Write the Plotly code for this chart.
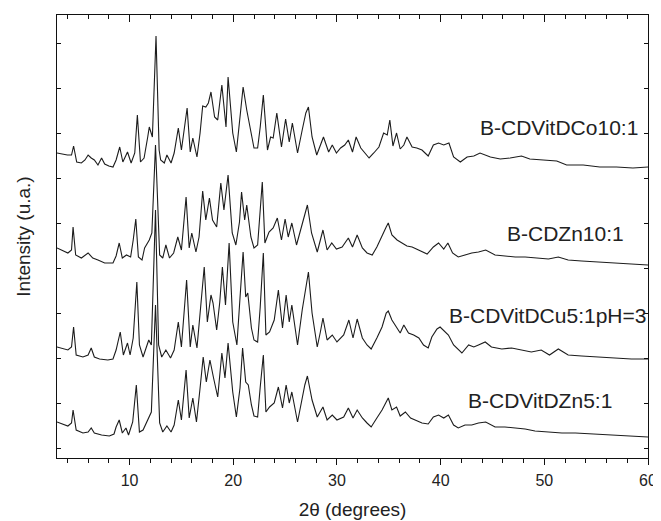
import plotly.graph_objects as go

# ---- data (2theta in degrees, intensity in arbitrary units) ----
co_x = [3.0, 3.5, 4.0, 4.4, 4.6, 4.9, 5.35, 5.7, 6.0, 6.3, 6.6, 6.95, 7.3, 7.6, 8.0, 8.4, 8.7, 9.05, 9.35, 9.8,
        10.15, 10.5, 10.75, 11.05, 11.4, 11.75, 11.9, 12.2, 12.55, 12.85, 13.0, 13.35, 13.6, 14.0, 14.3, 14.7, 15.0,
        15.55, 15.85, 16.1, 16.5, 16.8, 17.05, 17.35, 17.6, 17.85, 18.2, 18.5, 18.9, 19.3, 19.5, 19.95, 20.3, 20.75,
        20.95, 21.3, 21.6, 22.0, 22.35, 22.6, 22.9, 23.3, 23.6, 23.85, 24.2, 24.65, 25.05, 25.4, 25.7, 26.2, 26.65,
        27.0, 27.25, 27.6, 28.05, 28.35, 28.7, 29.2, 29.55, 29.95, 30.35, 30.75, 31.1, 31.5, 31.85, 32.3, 32.7, 33.1,
        33.55, 34.05, 34.5, 34.85, 35.1, 35.4, 35.75, 36.1, 36.45, 36.75, 37.25, 37.7, 38.2, 38.8, 39.3, 39.8, 40.3,
        40.8, 41.25, 41.9, 42.55, 43.2, 43.8, 44.8, 45.75, 46.7, 47.8, 48.6, 49.9, 51.2, 52.15, 53.75, 55.35, 56.95,
        58.55, 60.0]
co_y = [305, 304, 303, 303, 312, 296, 295, 298, 303, 300, 298, 293, 300, 294, 292, 291, 298, 311, 296, 306,
        295, 305, 343, 296, 300, 321, 331, 321, 422, 308, 298, 295, 303, 295, 305, 330, 308,
        350, 306, 320, 301, 325, 352, 351, 355, 366, 341, 338, 373, 331, 381, 325, 306, 351,
        371, 348, 333, 310, 310, 331, 363, 308, 321, 320, 345, 311, 339, 316, 335, 305, 328,
        345, 351, 321, 303, 311, 321, 306, 313, 305, 310, 313, 318, 306, 321, 310, 305, 300,
        305, 311, 325, 323, 338, 312, 325, 309, 313, 321, 311, 310, 308, 302, 313, 315, 313,
        315, 301, 296, 301, 302, 305, 301, 299, 300, 302, 299, 298, 297, 293, 293, 291, 291,
        290, 291]

zn10_x = [3.0, 4.05, 4.4, 4.55, 4.8, 5.35, 6.0, 6.45, 6.95, 7.6, 8.4, 8.7, 9.0, 9.3, 9.7, 10.1, 10.35, 10.6, 10.85,
          11.2, 11.45, 11.9, 12.15, 12.5, 12.9, 13.2, 13.5, 13.85, 14.25, 14.65, 15.0, 15.45, 15.75, 16.0, 16.4, 16.7,
          17.05, 17.35, 17.7, 18.0, 18.4, 18.8, 19.1, 19.5, 19.9, 20.25, 20.6, 20.8, 21.1, 21.3, 21.7, 22.0, 22.35,
          22.55, 22.8, 23.05, 23.45, 23.85, 24.25, 24.65, 25.0, 25.3, 25.65, 26.1, 26.6, 26.9, 27.15, 27.55, 28.1,
          28.4, 28.65, 29.05, 29.5, 29.95, 30.5, 31.1, 31.5, 31.95, 32.45, 32.9, 33.4, 33.85, 34.35, 34.75, 34.95,
          35.3, 35.8, 36.3, 36.75, 37.25, 37.9, 38.7, 39.3, 39.8, 40.3, 40.7, 41.15, 41.7, 42.35, 43.0, 43.65, 44.35,
          45.25, 46.2, 47.2, 48.15, 49.1, 50.4, 51.35, 52.3, 53.6, 55.2, 56.8, 58.4, 60.0]
zn10_y = [210, 205, 208, 231, 203, 200, 205, 200, 198, 195, 195, 202, 215, 200, 203, 201, 218, 239, 201,
          198, 210, 218, 225, 313, 203, 200, 213, 200, 205, 221, 208, 261, 210, 225, 206, 221,
          267, 238, 260, 238, 231, 275, 248, 283, 225, 213, 236, 266, 238, 253, 221, 210, 213,
          238, 276, 215, 226, 230, 240, 218, 239, 221, 235, 213, 233, 243, 253, 225, 206,
          218, 228, 208, 215, 209, 211, 220, 211, 223, 210, 205, 203, 211, 223, 231, 235,
          223, 218, 215, 212, 211, 208, 204, 211, 215, 209, 215, 205, 201, 203, 205, 206, 208,
          203, 202, 201, 201, 200, 199, 201, 198, 197, 196, 195, 194, 193]

cu_x = [3.0, 4.05, 4.4, 4.6, 4.85, 5.5, 6.0, 6.3, 6.6, 7.1, 7.9, 8.4, 8.7, 9.1, 9.4, 9.8, 10.05, 10.35, 10.7, 10.95,
        11.3, 11.6, 11.85, 12.1, 12.5, 12.8, 13.1, 13.5, 13.95, 14.3, 14.7, 15.0, 15.5, 15.85, 16.1, 16.5, 16.9, 17.2,
        17.5, 17.85, 18.05, 18.4, 18.7, 18.95, 19.25, 19.6, 19.95, 20.35, 20.65, 20.95, 21.2, 21.4, 21.75, 22.0,
        22.35, 22.6, 22.9, 23.15, 23.5, 23.95, 24.35, 24.75, 25.1, 25.4, 25.65, 26.2, 26.65, 27.0, 27.25, 27.6, 28.1,
        28.4, 28.65, 29.05, 29.55, 30.0, 30.65, 31.15, 31.55, 31.95, 32.45, 32.9, 33.3, 33.85, 34.35, 34.75, 34.95,
        35.3, 35.75, 36.1, 36.45, 36.9, 37.4, 37.9, 38.35, 38.8, 39.15, 39.65, 39.95, 40.4, 40.75, 41.25, 41.7, 42.05,
        42.7, 43.2, 43.65, 44.3, 44.9, 45.9, 46.85, 47.8, 48.75, 49.7, 50.5, 51.35, 52.3, 53.6, 55.2, 56.8, 58.4, 60.0]
cu_y = [111, 108, 111, 131, 103, 101, 103, 110, 101, 99, 98, 99, 108, 126, 103, 115, 103, 120, 176, 113,
        101, 110, 118, 113, 248, 113, 101, 108, 100, 108, 136, 111, 178, 111, 133, 110, 156, 191,
        136, 163, 155, 128, 156, 191, 153, 215, 136, 113, 160, 206, 161, 165, 130, 118,
        116, 151, 205, 123, 126, 138, 168, 130, 163, 136, 153, 113, 148, 171, 186, 145, 111,
        126, 140, 118, 123, 116, 123, 138, 120, 139, 120, 113, 109, 120, 131, 145, 147,
        138, 130, 125, 133, 125, 123, 120, 113, 110, 121, 129, 131, 126, 123, 113, 108, 105,
        113, 111, 113, 116, 111, 109, 110, 108, 106, 108, 103, 109, 103, 102, 101, 100, 99, 99]

zn5_x = [3.0, 4.05, 4.4, 4.55, 4.85, 5.5, 6.0, 6.3, 6.6, 7.3, 8.05, 8.5, 8.7, 9.0, 9.3, 9.65, 9.9, 10.3, 10.65, 10.95,
         11.3, 11.75, 12.1, 12.5, 12.9, 13.2, 13.6, 14.0, 14.3, 14.7, 15.0, 15.45, 15.75, 16.1, 16.45, 16.8, 17.1,
         17.4, 17.75, 18.1, 18.5, 18.9, 19.2, 19.5, 19.95, 20.3, 20.65, 20.9, 21.2, 21.45, 21.75, 22.0, 22.35, 22.6,
         22.9, 23.15, 23.5, 23.95, 24.35, 24.75, 25.1, 25.4, 25.65, 26.2, 26.65, 26.9, 27.15, 27.6, 28.1, 28.4, 28.65,
         29.05, 29.55, 30.0, 30.65, 31.1, 31.55, 31.95, 32.45, 32.9, 33.3, 33.85, 34.35, 34.75, 34.95, 35.3, 35.75,
         36.1, 36.6, 37.1, 37.6, 38.2, 38.8, 39.3, 39.8, 40.3, 40.75, 41.25, 41.7, 42.35, 43.0, 43.65, 44.35, 45.25,
         46.2, 47.2, 48.15, 49.1, 50.4, 51.7, 53.0, 54.6, 56.2, 57.8, 60.0]
zn5_y = [36, 32, 35, 48, 28, 25, 26, 30, 25, 23, 22, 24, 31, 38, 25, 30, 23, 36, 73, 26,
         28, 38, 46, 153, 35, 26, 32, 26, 33, 58, 38, 88, 40, 60, 36, 70, 101,
         76, 98, 80, 61, 105, 80, 115, 66, 41, 70, 110, 76, 73, 53, 42, 41, 71,
         103, 46, 51, 55, 71, 50, 73, 55, 66, 36, 61, 73, 82, 58, 41, 46, 51,
         38, 43, 38, 41, 50, 40, 48, 40, 35, 31, 40, 48, 56, 60, 48, 51,
         42, 46, 40, 38, 35, 34, 41, 43, 40, 43, 33, 30, 33, 33, 35, 36, 31,
         31, 30, 29, 27, 26, 25, 25, 24, 23, 22, 21]

series = [
    ("B-CDVitDCo10:1", co_x, co_y),
    ("B-CDZn10:1", zn10_x, zn10_y),
    ("B-CDVitDCu5:1pH=3", cu_x, cu_y),
    ("B-CDVitDZn5:1", zn5_x, zn5_y),
]
label_x = [59.2, 57.9, 60.0, 56.75]
label_y = [331, 225, 143, 58]
y_ticks = [10, 55, 100, 145, 190, 235, 280, 325, 370, 415]
x_range = [3, 60]
y_range = [0, 443]

FONT = "Arial, Liberation Sans, Helvetica, sans-serif"
TXT = "#222222"
fig = go.Figure()
for name, xs, ys in series:
    fig.add_trace(go.Scatter(x=xs, y=ys, mode="lines", name=name,
                             line=dict(color="#1c1c1c", width=1.1), showlegend=False))
# invisible helper so the top (inside-tick) axis is drawn
fig.add_trace(go.Scatter(x=[co_x[0], co_x[-1]], y=[co_y[0], co_y[-1]], xaxis="x2", mode="none",
                         showlegend=False, hoverinfo="skip"))

for (name, _, _), lx, ly in zip(series, label_x, label_y):
    fig.add_annotation(x=lx, y=ly, text=name, showarrow=False, xanchor="right", yanchor="middle",
                       font=dict(family=FONT, size=21, color=TXT))

# the page puts the figure 8px in from the top-left corner, so the figure is 8px smaller
fig.update_layout(
    width=653, height=513,
    margin=dict(l=49, r=13, t=7, b=63, autoexpand=False),
    paper_bgcolor="white", plot_bgcolor="white",
    font=dict(family=FONT, color=TXT),
    xaxis=dict(
        range=x_range, tick0=0, dtick=10, ticks="outside", ticklen=6, tickwidth=1, tickcolor="#111111",
        minor=dict(dtick=2, tick0=0, ticks="outside", ticklen=4, tickwidth=1, tickcolor="#111111", showgrid=False),
        showline=True, linecolor="#111111", linewidth=1.3, mirror=False, showgrid=False, zeroline=False,
        tickfont=dict(family=FONT, size=16, color=TXT), automargin=False, ticklabelstandoff=2,
        title=dict(text="2θ (degrees)", font=dict(family=FONT, size=19, color=TXT), standoff=14),
    ),
    xaxis2=dict(
        range=x_range, overlaying="x", side="top", matches="x", tick0=0, dtick=10,
        ticks="inside", ticklen=7, tickwidth=1, tickcolor="#111111",
        minor=dict(dtick=2, tick0=0, ticks="inside", ticklen=4, tickwidth=1, tickcolor="#111111", showgrid=False),
        showline=True, linecolor="#111111", linewidth=1.3, showgrid=False, zeroline=False,
        showticklabels=False, automargin=False,
    ),
    yaxis=dict(
        range=y_range, tickvals=y_ticks, showticklabels=False, ticks="inside", ticklen=4, tickwidth=1,
        tickcolor="#111111",
        showline=True, linecolor="#111111", linewidth=1.3, mirror="ticks", showgrid=False, zeroline=False,
        automargin=False,
        title=dict(text="Intensity (u.a.)", font=dict(family=FONT, size=19, color=TXT), standoff=20),
    ),
)

fig.write_html("out.html")
